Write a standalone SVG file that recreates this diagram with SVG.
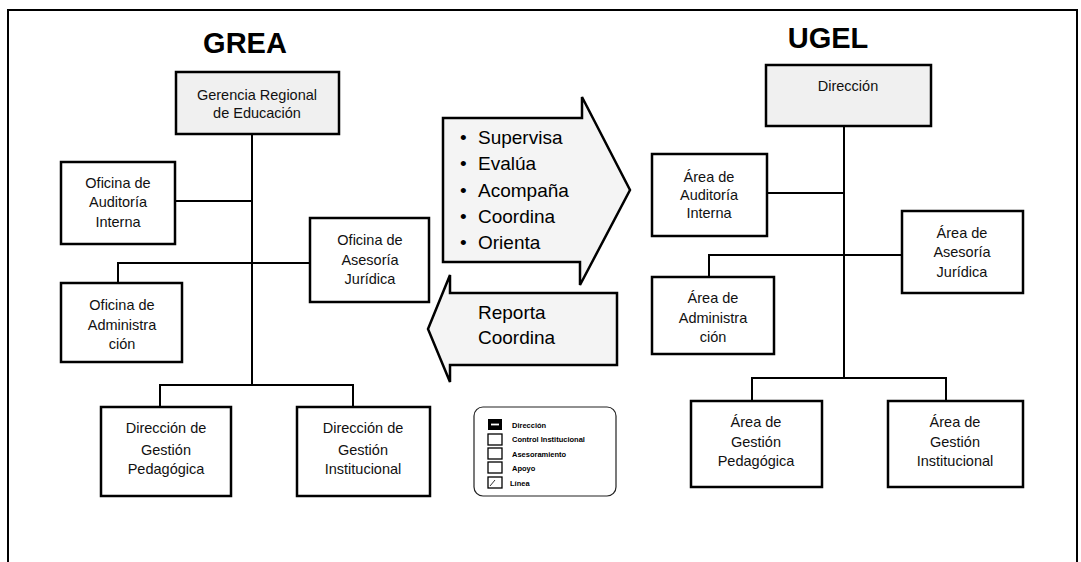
<svg xmlns="http://www.w3.org/2000/svg" width="1081" height="562" viewBox="0 0 1081 562">
<style>
.box{fill:#fff;stroke:#000;stroke-width:2.5}
.gbox{fill:#f0f0f0;stroke:#000;stroke-width:2.5}
.lbl{font-family:"Liberation Sans",Arial,sans-serif;font-size:14.5px;fill:#111;text-anchor:middle}
.ttl{font-family:"Liberation Sans",Arial,sans-serif;font-size:29px;font-weight:bold;fill:#000;text-anchor:middle}
.arr{fill:#f4f4f4;stroke:#000;stroke-width:2.5;stroke-linejoin:miter}
.atx{font-family:"Liberation Sans",Arial,sans-serif;font-size:19px;fill:#000}
.con{fill:none;stroke:#000;stroke-width:2}
.leg{font-family:"Liberation Sans Narrow","Liberation Sans",Arial,sans-serif;font-size:7.5px;font-weight:bold;fill:#000}
.ico{fill:#fff;stroke:#000;stroke-width:1.3}
</style>
<rect x="0" y="0" width="1081" height="562" fill="#fff"/>
<path d="M8,562 V10 H1077 V562" fill="none" stroke="#000" stroke-width="2"/>

<text class="ttl" x="245" y="53">GREA</text>
<text class="ttl" x="828" y="48">UGEL</text>

<g id="connectors">
  <path class="con" d="M252,134 V385"/>
  <path class="con" d="M175,201 H252"/>
  <path class="con" d="M118,283 V263 H310"/>
  <path class="con" d="M160,407 V385 H353 V407"/>
  <path class="con" d="M844,126 V378"/>
  <path class="con" d="M767,193 H844"/>
  <path class="con" d="M709,277 V255 H902"/>
  <path class="con" d="M752,401 V378 H946 V401"/>
</g>

<g id="grea-gerencia">
  <rect class="gbox" x="176" y="72" width="163" height="62"/>
  <text class="lbl" x="257" y="100">Gerencia Regional</text>
  <text class="lbl" x="257" y="118">de Educación</text>
</g>
<g id="grea-auditoria">
  <rect class="box" x="61" y="162" width="114" height="82"/>
  <text class="lbl" x="118" y="188">Oficina de</text>
  <text class="lbl" x="118" y="207">Auditoría</text>
  <text class="lbl" x="118" y="227">Interna</text>
</g>
<g id="grea-asesoria">
  <rect class="box" x="310" y="218" width="119" height="84"/>
  <text class="lbl" x="370" y="245">Oficina de</text>
  <text class="lbl" x="370" y="265">Asesoría</text>
  <text class="lbl" x="370" y="284">Jurídica</text>
</g>
<g id="grea-administracion">
  <rect class="box" x="61" y="283" width="121" height="79"/>
  <text class="lbl" x="122" y="310">Oficina de</text>
  <text class="lbl" x="122" y="330">Administra</text>
  <text class="lbl" x="122" y="349">ción</text>
</g>
<g id="grea-pedagogica">
  <rect class="box" x="101" y="407" width="130" height="89"/>
  <text class="lbl" x="166" y="433">Dirección de</text>
  <text class="lbl" x="166" y="455">Gestión</text>
  <text class="lbl" x="166" y="474">Pedagógica</text>
</g>
<g id="grea-institucional">
  <rect class="box" x="297" y="407" width="133" height="89"/>
  <text class="lbl" x="363" y="433">Dirección de</text>
  <text class="lbl" x="363" y="455">Gestión</text>
  <text class="lbl" x="363" y="474">Institucional</text>
</g>

<g id="arrow-right">
  <polygon class="arr" points="443,118 582,118 582,97 630,190 580,285 580,262 443,262"/>
  <g class="atx">
    <text x="460" y="144">•</text><text x="478" y="144">Supervisa</text>
    <text x="460" y="170">•</text><text x="478" y="170">Evalúa</text>
    <text x="460" y="197">•</text><text x="478" y="197">Acompaña</text>
    <text x="460" y="223">•</text><text x="478" y="223">Coordina</text>
    <text x="460" y="249">•</text><text x="478" y="249">Orienta</text>
  </g>
</g>
<g id="arrow-left">
  <polygon class="arr" points="617,293 450,293 450,275 428,329 450,382 450,365 617,365"/>
  <text class="atx" x="478" y="319">Reporta</text>
  <text class="atx" x="478" y="344">Coordina</text>
</g>

<g id="legend">
  <rect x="474" y="407" width="142" height="89" rx="9" fill="#fff" stroke="#222" stroke-width="1.2"/>
  <rect x="488" y="419" width="14" height="11" fill="#000"/>
  <line x1="491" y1="424.5" x2="499" y2="424.5" stroke="#fff" stroke-width="1.8"/>
  <text class="leg" x="512" y="428">Dirección</text>
  <rect class="ico" x="488" y="434" width="14" height="11"/>
  <text class="leg" x="512" y="442">Control Institucional</text>
  <rect class="ico" x="488" y="448" width="14" height="11"/>
  <text class="leg" x="512" y="457">Asesoramiento</text>
  <rect class="ico" x="488" y="462" width="14" height="11" fill="#ddd"/>
  <text class="leg" x="512" y="471">Apoyo</text>
  <rect class="ico" x="488" y="477" width="14" height="11"/>
  <line x1="490" y1="486" x2="495" y2="480" stroke="#000" stroke-width="0.8"/>
  <text class="leg" x="510" y="486">Línea</text>
</g>

<g id="ugel-direccion">
  <rect class="gbox" x="766" y="65" width="165" height="61"/>
  <text class="lbl" x="848" y="91">Dirección</text>
</g>
<g id="ugel-auditoria">
  <rect class="box" x="652" y="154" width="115" height="82"/>
  <text class="lbl" x="709" y="182">Área de</text>
  <text class="lbl" x="709" y="200">Auditoría</text>
  <text class="lbl" x="709" y="218">Interna</text>
</g>
<g id="ugel-asesoria">
  <rect class="box" x="902" y="211" width="121" height="82"/>
  <text class="lbl" x="962" y="238">Área de</text>
  <text class="lbl" x="962" y="257">Asesoría</text>
  <text class="lbl" x="962" y="277">Jurídica</text>
</g>
<g id="ugel-administracion">
  <rect class="box" x="652" y="277" width="122" height="77"/>
  <text class="lbl" x="713" y="303">Área de</text>
  <text class="lbl" x="713" y="323">Administra</text>
  <text class="lbl" x="713" y="342">ción</text>
</g>
<g id="ugel-pedagogica">
  <rect class="box" x="691" y="401" width="131" height="86"/>
  <text class="lbl" x="756" y="427">Área de</text>
  <text class="lbl" x="756" y="447">Gestión</text>
  <text class="lbl" x="756" y="466">Pedagógica</text>
</g>
<g id="ugel-institucional">
  <rect class="box" x="888" y="401" width="135" height="86"/>
  <text class="lbl" x="955" y="427">Área de</text>
  <text class="lbl" x="955" y="447">Gestión</text>
  <text class="lbl" x="955" y="466">Institucional</text>
</g>
</svg>
